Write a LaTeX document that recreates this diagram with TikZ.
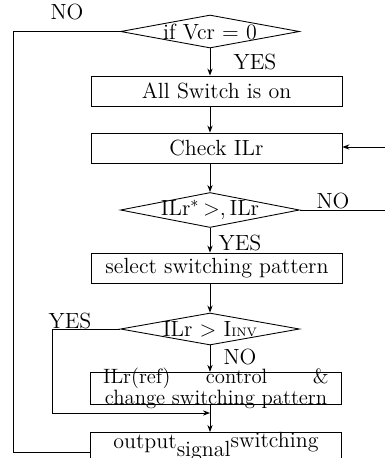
\documentclass[tikz,border=0pt]{standalone}
\usetikzlibrary{positioning, arrows.meta, shapes.geometric}

\begin{document}
\begin{tikzpicture}[
  x=0.02cm, y=-0.02cm,
  >={Stealth[length=4pt,width=3pt]},
  line width=0.5pt,
  every node/.style={font=\fontsize{12.5}{10.5}\selectfont},
  % process boxes, all the same width
  procbox/.style={rectangle, draw, minimum width=5.02cm, minimum height=0.6cm, inner sep=0pt},
  % decision diamonds, flat, size fixed (text goes in as a centre label)
  decide/.style={diamond, draw, aspect=5.4, minimum width=3.58cm, minimum height=0.66cm, inner sep=0pt},
  lbl/.style={inner sep=0pt}
]
\clip (0,0) rectangle (385,458);

% Decisions on the main axis (x = 210)
\node[decide, label=center:{if Vcr = 0}] (d1) at (210,31.5) {};
\node[decide, minimum height=0.7cm, label=center:{ILr$^{*}$\,>,\,ILr}] (d2) at (210,210) {};
\node[decide, minimum height=0.64cm, label=center:{ILr > I{\scriptsize INV}}] (d3) at (210,329) {};

% Process boxes
\node[procbox] (b1) at (216.5,91) {All Switch is on};
\node[procbox] (b2) at (216.5,148) {Check ILr};
\node[procbox] (b3) at (217,268) {select switching pattern};
\node[procbox, minimum height=0.58cm, inner ysep=-2.5pt, align=center, font=\fontsize{11.8}{8.4}\selectfont] (b4) at (216,388.5)
  {ILr(ref)\hspace{1.7em}control\hspace{2.2em}\&\\change switching pattern};
\node[procbox, anchor=north] (b5) at (216,432)
  {\raisebox{2.6ex}{output\raisebox{-0.8ex}{signal}\raisebox{0.1ex}{switching}}};

% Branch labels
\node[lbl] (no1) at (67,12) {NO};
\node[lbl] (yes1) at (255,62) {YES};
\node[lbl] (no2) at (333,201) {NO};
\node[lbl] (yes2) at (240,243) {YES};
\node[lbl] (yes3) at (70,321) {YES};
\node[lbl] (no3) at (240,357) {NO};

% Main flow
\draw[->] (d1.south) -- (d1.south |- b1.north);
\draw[->] (d1.south |- b1.south) -- (d1.south |- b2.north);
\draw[->] (d1.south |- b2.south) -- (d2.north);
\draw[->] (d2.south) -- (d2.south |- b3.north);
\draw[->] (d2.south |- b3.south) -- (d3.north);
\draw[->] (d3.south) -- (d3.south |- b4.north);
\draw[->] (d3.south |- b4.south) -- (d3.south |- b5.north);

% YES bypass round the control box
\coordinate (join) at (210,413);
\draw[->] (d3.west) -- (52,329) |- (join);

% NO from the first test down to the output
\draw (d1.west) -- (13,31.5) |- (b5.west);

% Loop ends leaving the frame
\coordinate (loopin) at (385,147);
\coordinate (loopout) at (385,210);
\draw[->] (loopin) -- (b2.east |- loopin);
\draw (d2.east) -- (loopout);

\end{tikzpicture}
\end{document}
